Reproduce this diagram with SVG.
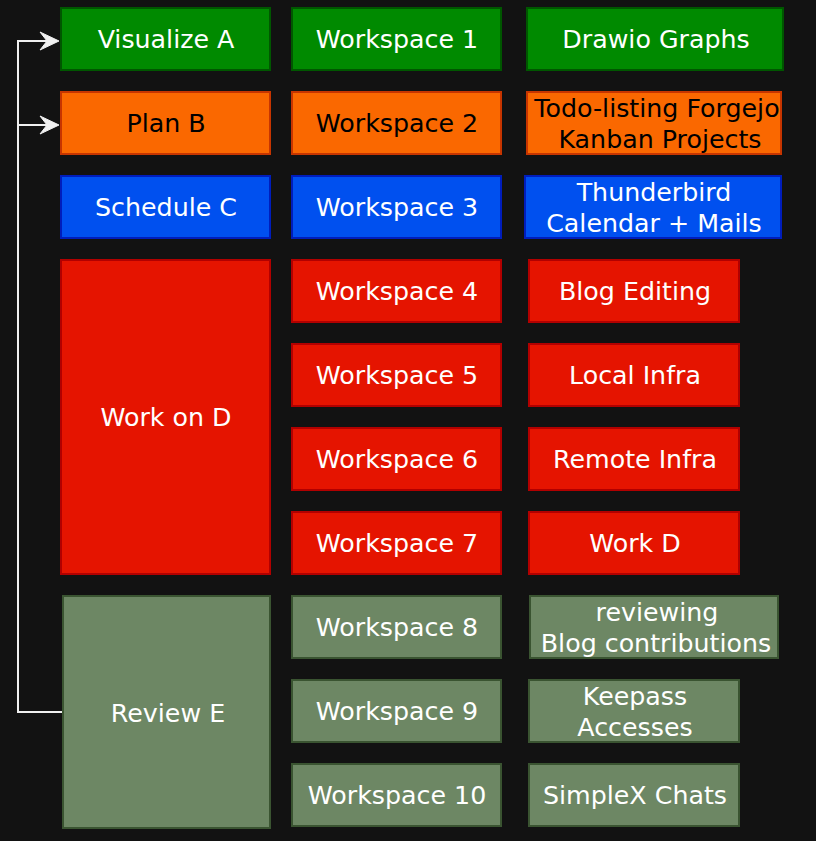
<svg xmlns="http://www.w3.org/2000/svg" width="816" height="841" viewBox="0 0 816 841">
<style>
.t{font-family:"DejaVu Sans","Liberation Sans",sans-serif;font-size:25.3px;text-anchor:middle;fill:#ffffff}
.dk{fill:#000000}
.g{fill:#008a00;stroke:#005700;stroke-width:2}
.o{fill:#fa6800;stroke:#c73500;stroke-width:2}
.b{fill:#0050ef;stroke:#001dbc;stroke-width:2}
.r{fill:#e51400;stroke:#b20000;stroke-width:2}
.v{fill:#6d8764;stroke:#3a5431;stroke-width:2}
.edge{fill:none;stroke:#f0f0f0;stroke-width:2}
.head{fill:#f0f0f0;stroke:#f0f0f0;stroke-width:1}
</style>
<rect x="0" y="0" width="816" height="841" fill="#121212"/>
<g id="connectors">
<path class="edge" d="M62,712 H18 V41 H48"/>
<path class="edge" d="M18,125 H48"/>
<path class="head" d="M59,41 L40,32 L47,41 L40,50 Z"/>
<path class="head" d="M59,125 L40,116 L47,125 L40,134 Z"/>
</g>
<g id="visualize-a"><rect class="g" x="61" y="8" width="209" height="62"/><text class="t" x="166" y="48">Visualize A</text></g>
<g id="plan-b"><rect class="o" x="61" y="92" width="209" height="62"/><text class="t dk" x="166" y="132">Plan B</text></g>
<g id="schedule-c"><rect class="b" x="61" y="176" width="209" height="62"/><text class="t" x="166" y="216">Schedule C</text></g>
<g id="work-on-d"><rect class="r" x="61" y="260" width="209" height="314"/><text class="t" x="166" y="426">Work on D</text></g>
<g id="review-e"><rect class="v" x="63" y="596" width="207" height="232"/><text class="t" x="168" y="722">Review E</text></g>

<g id="ws1"><rect class="g" x="292" y="8" width="209" height="62"/><text class="t" x="397" y="48">Workspace 1</text></g>
<g id="ws2"><rect class="o" x="292" y="92" width="209" height="62"/><text class="t dk" x="397" y="132">Workspace 2</text></g>
<g id="ws3"><rect class="b" x="292" y="176" width="209" height="62"/><text class="t" x="397" y="216">Workspace 3</text></g>
<g id="ws4"><rect class="r" x="292" y="260" width="209" height="62"/><text class="t" x="397" y="300">Workspace 4</text></g>
<g id="ws5"><rect class="r" x="292" y="344" width="209" height="62"/><text class="t" x="397" y="384">Workspace 5</text></g>
<g id="ws6"><rect class="r" x="292" y="428" width="209" height="62"/><text class="t" x="397" y="468">Workspace 6</text></g>
<g id="ws7"><rect class="r" x="292" y="512" width="209" height="62"/><text class="t" x="397" y="552">Workspace 7</text></g>
<g id="ws8"><rect class="v" x="292" y="596" width="209" height="62"/><text class="t" x="397" y="636">Workspace 8</text></g>
<g id="ws9"><rect class="v" x="292" y="680" width="209" height="62"/><text class="t" x="397" y="720">Workspace 9</text></g>
<g id="ws10"><rect class="v" x="292" y="764" width="209" height="62"/><text class="t" x="397" y="804">Workspace 10</text></g>

<g id="drawio-graphs"><rect class="g" x="527" y="8" width="256" height="62"/><text class="t" x="656" y="48">Drawio Graphs</text></g>
<g id="todo-listing"><rect class="o" x="527" y="92" width="254" height="62"/><text class="t dk" x="657" y="117">Todo-listing Forgejo</text><text class="t dk" x="660" y="148">Kanban Projects</text></g>
<g id="thunderbird"><rect class="b" x="525" y="176" width="256" height="62"/><text class="t" x="654" y="201">Thunderbird</text><text class="t" x="654" y="232">Calendar + Mails</text></g>
<g id="blog-editing"><rect class="r" x="529" y="260" width="210" height="62"/><text class="t" x="635" y="300">Blog Editing</text></g>
<g id="local-infra"><rect class="r" x="529" y="344" width="210" height="62"/><text class="t" x="635" y="384">Local Infra</text></g>
<g id="remote-infra"><rect class="r" x="529" y="428" width="210" height="62"/><text class="t" x="635" y="468">Remote Infra</text></g>
<g id="work-d"><rect class="r" x="529" y="512" width="210" height="62"/><text class="t" x="635" y="552">Work D</text></g>
<g id="reviewing"><rect class="v" x="530" y="596" width="248" height="62"/><text class="t" x="657" y="621">reviewing</text><text class="t" x="656" y="652">Blog contributions</text></g>
<g id="keepass"><rect class="v" x="529" y="680" width="210" height="62"/><text class="t" x="635" y="705">Keepass</text><text class="t" x="635" y="736">Accesses</text></g>
<g id="simplex"><rect class="v" x="529" y="764" width="210" height="62"/><text class="t" x="635" y="804">SimpleX Chats</text></g>
</svg>
